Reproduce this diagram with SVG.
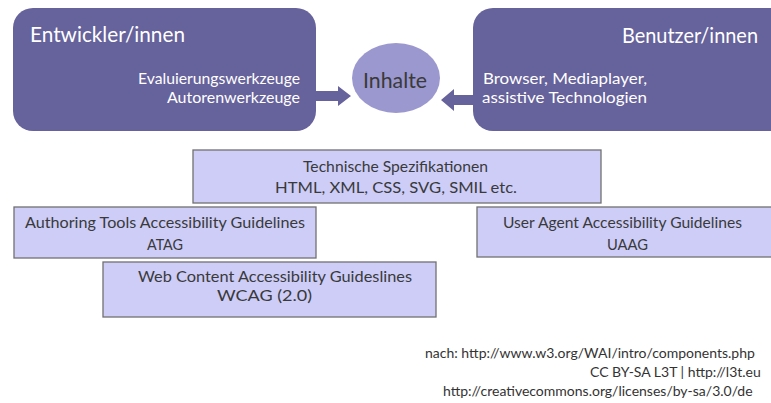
<svg xmlns="http://www.w3.org/2000/svg" width="771" height="403" viewBox="0 0 771 403">
<defs>
<style>
text{font-family:Lato,"Open Sans","Liberation Sans",sans-serif;}
.dark{fill:#66629b;}
.light{fill:#cdcdf8;stroke:#707070;stroke-width:1.3;}
.w{fill:#ffffff;}
.t{fill:#3a3a3a;}
.big{font-size:21px;}
.mid{font-size:16px;}
.foot{font-size:14px;fill:#333333;}
</style>
</defs>
<rect width="771" height="403" fill="#ffffff"/>
<g id="entwickler">
<rect class="dark" x="13" y="8" width="303" height="123" rx="20"/>
<text class="w big" x="30" y="42" textLength="155" lengthAdjust="spacingAndGlyphs">Entwickler/innen</text>
<text class="w mid" x="138" y="84" textLength="162" lengthAdjust="spacingAndGlyphs">Evaluierungswerkzeuge</text>
<text class="w mid" x="167" y="103" textLength="133" lengthAdjust="spacingAndGlyphs">Autorenwerkzeuge</text>
</g>
<g id="benutzer">
<rect class="dark" x="473" y="8" width="320" height="123" rx="20"/>
<text class="w big" x="622" y="43" textLength="136" lengthAdjust="spacingAndGlyphs">Benutzer/innen</text>
<text class="w mid" x="483" y="84" textLength="164" lengthAdjust="spacingAndGlyphs">Browser, Mediaplayer,</text>
<text class="w mid" x="482" y="103" textLength="165" lengthAdjust="spacingAndGlyphs">assistive Technologien</text>
</g>
<g id="inhalte">
<ellipse cx="396" cy="78" rx="44" ry="35" fill="#9b98cf"/>
<text class="t" x="363" y="88" font-size="22" textLength="64" lengthAdjust="spacingAndGlyphs">Inhalte</text>
</g>
<g id="connectors">
<polygon class="dark" points="316,91 338,91 338,86 351,96 338,106 338,101 316,101"/>
<polygon class="dark" points="473,95 454,95 454,89 441,100 454,111 454,105 473,105"/>
</g>
<g id="tech">
<rect class="light" x="193" y="150" width="408" height="53"/>
<text class="t mid" x="303" y="172" textLength="185" lengthAdjust="spacingAndGlyphs">Technische Spezifikationen</text>
<text class="t mid" x="275" y="193" textLength="242" lengthAdjust="spacingAndGlyphs">HTML, XML, CSS, SVG, SMIL etc.</text>
</g>
<g id="atag">
<rect class="light" x="14" y="207" width="302" height="51"/>
<text class="t mid" x="25" y="228" textLength="280" lengthAdjust="spacingAndGlyphs">Authoring Tools Accessibility Guidelines</text>
<text class="t mid" x="147" y="250" textLength="36" lengthAdjust="spacingAndGlyphs">ATAG</text>
</g>
<g id="uaag">
<rect class="light" x="477" y="207" width="310" height="50"/>
<text class="t mid" x="503" y="228" textLength="239" lengthAdjust="spacingAndGlyphs">User Agent Accessibility Guidelines</text>
<text class="t mid" x="607" y="250" textLength="41" lengthAdjust="spacingAndGlyphs">UAAG</text>
</g>
<g id="wcag">
<rect class="light" x="103" y="262" width="333" height="55"/>
<text class="t mid" x="138" y="282" textLength="274" lengthAdjust="spacingAndGlyphs">Web Content Accessibility Guideslines</text>
<text class="t mid" x="217" y="301" textLength="95" lengthAdjust="spacingAndGlyphs">WCAG (2.0)</text>
</g>
<g id="footer">
<text class="foot" x="425" y="358">nach:  http://www.w3.org/WAI/intro/components.php</text>
<text class="foot" x="590" y="377">CC BY-SA L3T | http://l3t.eu</text>
<text class="foot" x="443" y="396">http://creativecommons.org/licenses/by-sa/3.0/de</text>
</g>
</svg>
